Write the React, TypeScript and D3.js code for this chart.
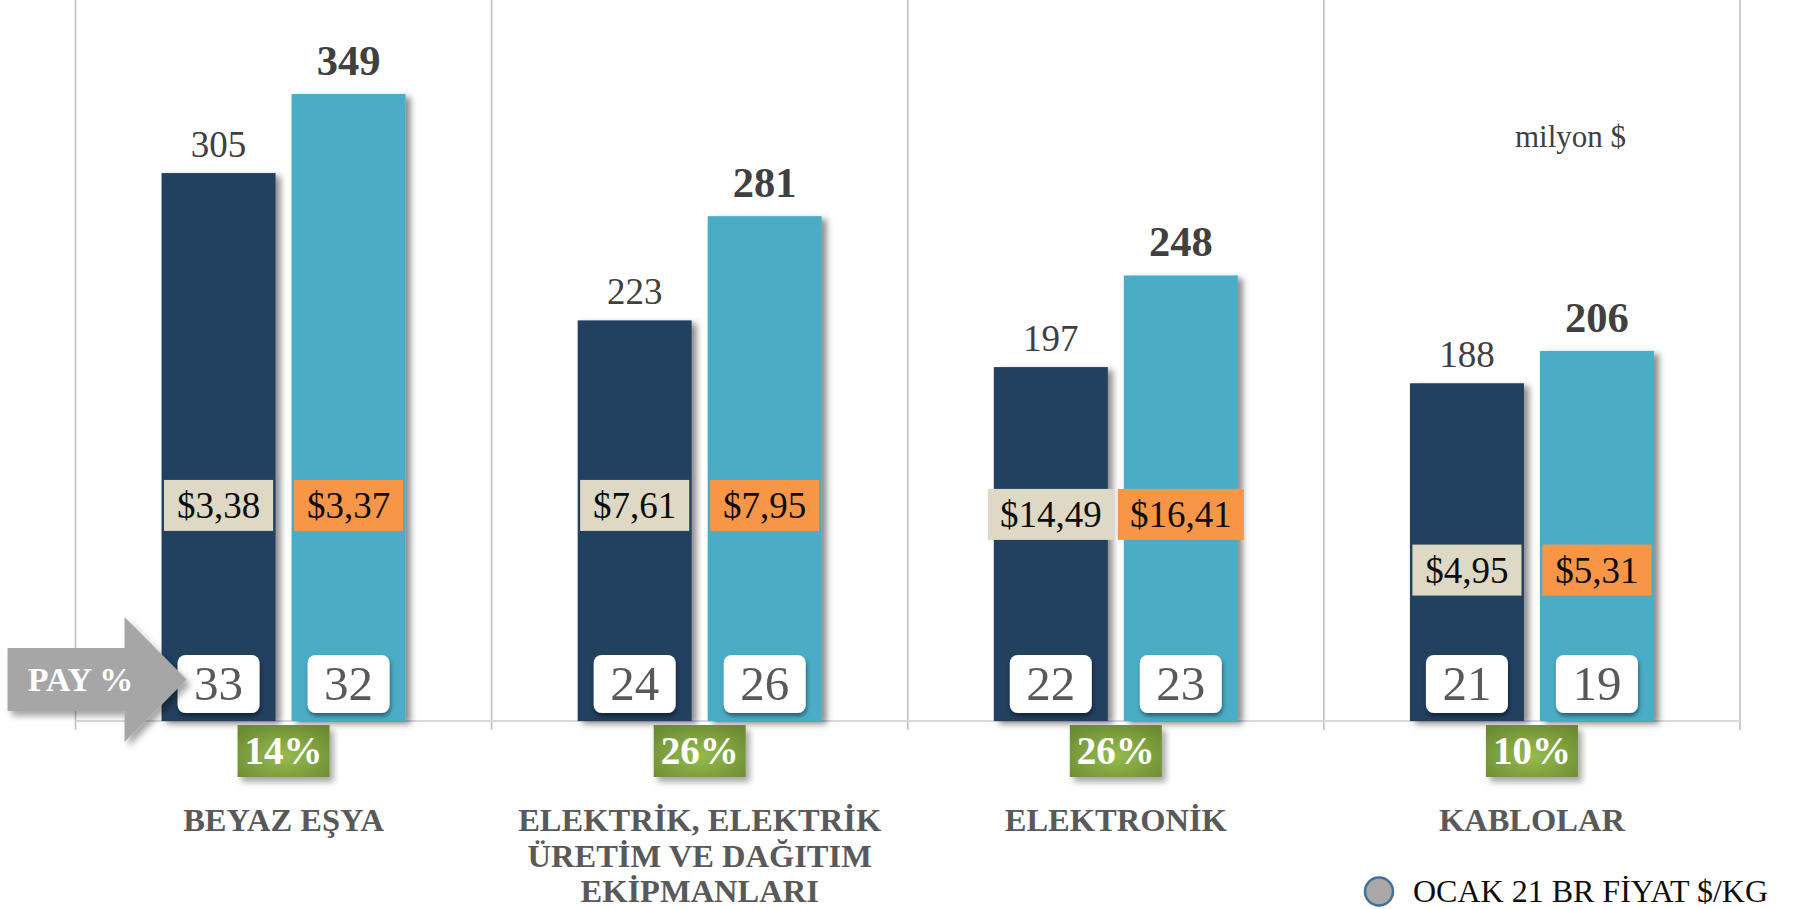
import * as d3 from "d3";

// values in milyon $
const categories = ["BEYAZ EŞYA", "ELEKTRİK, ELEKTRİK ÜRETİM VE DAĞITIM EKİPMANLARI", "ELEKTRONİK", "KABLOLAR"];
const categoryLines = [["BEYAZ EŞYA"], ["ELEKTRİK, ELEKTRİK", "ÜRETİM VE DAĞITIM", "EKİPMANLARI"], ["ELEKTRONİK"], ["KABLOLAR"]];
const series = ["OCAK 20", "OCAK 21"];
const valuesPrev = [305, 223, 197, 188];
const valuesCurr = [349, 281, 248, 206];
const pricePrev = [3.38, 7.61, 14.49, 4.95];
const priceCurr = [3.37, 7.95, 16.41, 5.31];
const sharePrev = [33, 24, 22, 21];
const shareCurr = [32, 26, 23, 19];
const growth = [14, 26, 26, 10];
// where the price tags sit, in the bar value units
const priceLabelAt = [120, 120, 115, 84];

const W = 1793;
const H = 909;
const FONT = "'Liberation Serif', 'Times New Roman', serif";
const colors = { prev: "#243F60", curr: "#4BACC6", tagPrev: "#DDD9C4", tagCurr: "#F79646" };

const fmtPrice = (v: number) => "$" + v.toFixed(2).replace(".", ",");

export default function App() {
  const x = d3.scaleBand<string>().domain(categories).range([75.5, 1740]).padding(0);
  const inner = d3
    .scaleBand<string>()
    .domain(series)
    .range([(x.bandwidth() - 244) / 2, (x.bandwidth() + 244) / 2])
    .paddingInner(0.123);
  const y = d3.scaleLinear().domain([0, 400]).range([721, 2.4]);
  const base = y(0);
  const bw = inner.bandwidth();

  const boundaries = [...categories.map((c) => x(c) as number), x.range()[1]];

  const firstBoxLeft = (x(categories[0]) as number) + (inner(series[0]) as number) + (bw - 82) / 2;
  const arrowTip = firstBoxLeft + 9;
  const arrowMid = base - 41.5;
  const arrowPts = [
    [arrowTip - 179, arrowMid - 31.5],
    [arrowTip - 62, arrowMid - 31.5],
    [arrowTip - 62, arrowMid - 62.5],
    [arrowTip, arrowMid],
    [arrowTip - 62, arrowMid + 62.5],
    [arrowTip - 62, arrowMid + 31.5],
    [arrowTip - 179, arrowMid + 31.5],
  ];

  const tagW = (t: string) => t.length * 0.46 * 37 + 24;

  return (
    <div style={{ position: "absolute", left: 0, top: 0, width: W, height: H, overflow: "hidden", background: "#fff" }}>
      <svg width={W} height={H} style={{ display: "block" }} fontFamily={FONT}>
        <defs>
          <filter id="barShadow" x="-20%" y="-20%" width="150%" height="140%">
            <feDropShadow dx="5" dy="3" stdDeviation="3" floodColor="#000" floodOpacity="0.45" />
          </filter>
          <filter id="boxShadow" x="-20%" y="-20%" width="140%" height="150%">
            <feDropShadow dx="1" dy="3" stdDeviation="2" floodColor="#000" floodOpacity="0.45" />
          </filter>
          <filter id="softShadow" x="-20%" y="-20%" width="150%" height="160%">
            <feDropShadow dx="4" dy="5" stdDeviation="3" floodColor="#000" floodOpacity="0.35" />
          </filter>
          <radialGradient id="green" cx="50%" cy="60%" r="70%">
            <stop offset="0%" stopColor="#97BB4F" />
            <stop offset="100%" stopColor="#6A8932" />
          </radialGradient>
        </defs>

        {/* category separators */}
        {boundaries.map((bx, i) => (
          <line key={i} x1={bx} x2={bx} y1={0} y2={730} stroke="#BFBFBF" strokeWidth={1.6} />
        ))}
        <line x1={x.range()[0]} x2={x.range()[1]} y1={base} y2={base} stroke="#D9D9D9" strokeWidth={2} />

        {categories.map((c, i) => {
          const gx = x(c) as number;
          const gc = gx + x.bandwidth() / 2;
          const bars = [
            { key: series[0], v: valuesPrev[i], fill: colors.prev, price: pricePrev[i], tag: colors.tagPrev, share: sharePrev[i], bold: false },
            { key: series[1], v: valuesCurr[i], fill: colors.curr, price: priceCurr[i], tag: colors.tagCurr, share: shareCurr[i], bold: true },
          ];
          return (
            <g key={c}>
              {bars.map((b) => {
                const bx = gx + (inner(b.key) as number);
                const cx = bx + bw / 2;
                const top = y(b.v);
                return (
                  <g key={b.key}>
                    <rect x={bx} y={top} width={bw} height={base - top} fill={b.fill} filter="url(#barShadow)" />
                    <text
                      x={cx}
                      y={top - (b.bold ? 19 : 16)}
                      textAnchor="middle"
                      fontSize={b.bold ? 42.5 : 37}
                      fontWeight={b.bold ? "bold" : "normal"}
                      fill="#404040"
                    >
                      {b.v}
                    </text>
                  </g>
                );
              })}
              {bars.map((b) => {
                const cx = gx + (inner(b.key) as number) + bw / 2;
                const t = fmtPrice(b.price);
                const tw = tagW(t);
                const cy = y(priceLabelAt[i]);
                return (
                  <g key={"p" + b.key}>
                    <rect x={cx - tw / 2} y={cy - 25.5} width={tw} height={51} fill={b.tag} />
                    <text x={cx} y={cy + 13} textAnchor="middle" fontSize={37} fill="#0D0D0D">
                      {t}
                    </text>
                  </g>
                );
              })}
              {bars.map((b) => {
                const cx = gx + (inner(b.key) as number) + bw / 2;
                const by = base - 8 - 58;
                return (
                  <g key={"s" + b.key}>
                    <rect x={cx - 41} y={by} width={82} height={58} rx={8} fill="#fff" filter="url(#boxShadow)" />
                    <text x={cx} y={by + 29 + 16} textAnchor="middle" fontSize={49} fill="#595959">
                      {b.share}
                    </text>
                  </g>
                );
              })}
              <rect x={gc - 46} y={725} width={92} height={52} fill="url(#green)" filter="url(#softShadow)" />
              <text x={gc} y={764} textAnchor="middle" fontSize={39} fontWeight="bold" fill="#fff">
                {growth[i]}%
              </text>
              <text textAnchor="middle" fontSize={32.5} fontWeight="bold" fill="#595959">
                {categoryLines[i].map((ln, k) => (
                  <tspan key={k} x={gc} y={831 + k * 35.5}>
                    {ln}
                  </tspan>
                ))}
              </text>
            </g>
          );
        })}

        {/* PAY % arrow */}
        <polygon points={arrowPts.map((p) => p.join(",")).join(" ")} fill="#A6A6A6" filter="url(#softShadow)" />
        <text x={arrowTip - 106} y={arrowMid + 11} textAnchor="middle" fontSize={34} fontWeight="bold" fill="#fff">
          PAY %
        </text>

        <text x={x.range()[1] - 225} y={147} fontSize={31} fill="#404040">
          milyon $
        </text>

        {/* legend */}
        <circle cx={1379} cy={891.5} r={14} fill="#ABA7A7" stroke="#41719C" strokeWidth={2.5} />
        <text x={1413} y={902} fontSize={32} fill="#0D0D0D">
          OCAK 21 BR FİYAT $/KG
        </text>
      </svg>
    </div>
  );
}
